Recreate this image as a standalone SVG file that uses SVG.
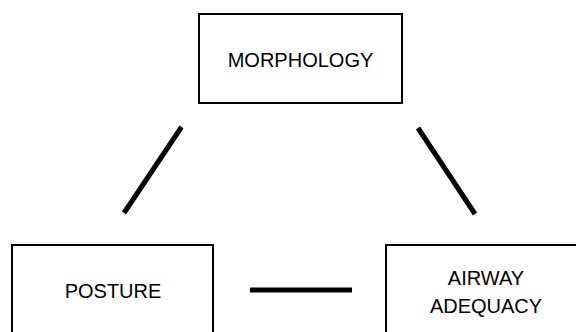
<svg xmlns="http://www.w3.org/2000/svg" width="576" height="332" viewBox="0 0 576 332">
<style>
.box{fill:#fff;stroke:#000;stroke-width:2}
.lbl{font-family:"Liberation Sans",Arial,sans-serif;font-size:20px;fill:#000;text-anchor:middle}
.con{stroke:#000;stroke-width:5;fill:none}
</style>
<rect width="576" height="332" fill="#fff"/>
<g id="connectors">
<line class="con" x1="181.5" y1="127" x2="124" y2="213"/>
<line class="con" x1="418" y1="128" x2="475" y2="214"/>
<line class="con" x1="250" y1="290" x2="352" y2="290"/>
</g>
<g id="morphology">
<rect class="box" x="199" y="14" width="203" height="89"/>
<text class="lbl" x="300.5" y="67">MORPHOLOGY</text>
</g>
<g id="posture">
<rect class="box" x="12" y="245" width="201" height="92"/>
<text class="lbl" x="113" y="298">POSTURE</text>
</g>
<g id="airway">
<rect class="box" x="386" y="245" width="200" height="92"/>
<text class="lbl" x="486" y="285">AIRWAY</text>
<text class="lbl" x="486" y="313">ADEQUACY</text>
</g>
</svg>
